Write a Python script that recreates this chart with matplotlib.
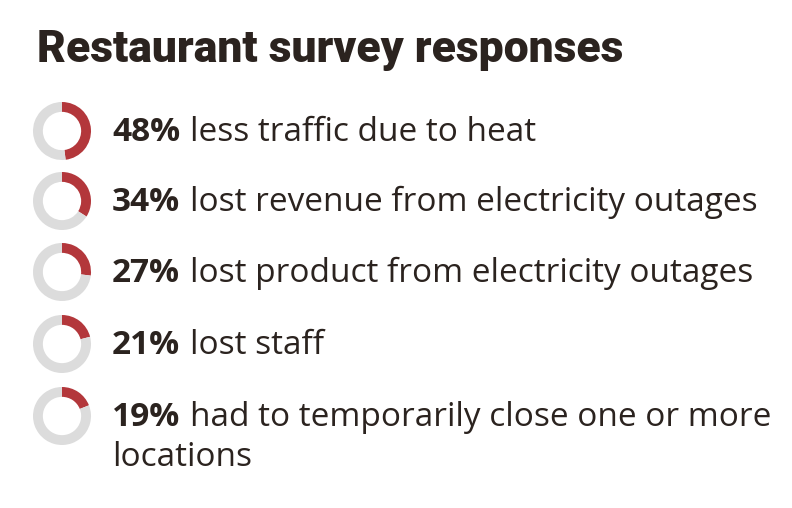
import matplotlib.pyplot as plt

# survey data
percents = [48, 34, 27, 21, 19]
labels = [
    "less traffic due to heat",
    "lost revenue from electricity outages",
    "lost product from electricity outages",
    "lost staff",
    "had to temporarily close one or more\nlocations",
]
title = "Restaurant survey responses"

red = "#b3373b"
grey = "#dcdcdc"
ink = "#2b231f"

W, H = 792, 508
fig = plt.figure(figsize=(W / 100, H / 100), dpi=100)
ax = fig.add_axes([0, 0, 1, 1])
ax.set_xlim(0, W)
ax.set_ylim(H, 0)
ax.axis("off")

ax.text(37, 62, title, fontsize=32, fontweight=900,
        family=["Roboto", "DejaVu Sans"],
        color=ink, va="baseline", ha="left")

renderer = fig.canvas.get_renderer()
row_y = [131, 201, 272, 344, 416]   # donut centres, pixels from top
r = 29

for pct, lab, cy in zip(percents, labels, row_y):
    # small axes for each donut
    pax = fig.add_axes([(62 - r) / W, 1 - (cy + r) / H, 2 * r / W, 2 * r / H])
    pax.pie([pct, 100 - pct], colors=[red, grey], startangle=90,
            counterclock=False, wedgeprops=dict(width=0.34, linewidth=0))
    pax.set_xlim(-1, 1)
    pax.set_ylim(-1, 1)
    pax.set_aspect("equal")

    base = cy + 10
    b = ax.text(112, base, f"{pct}%", fontsize=24, fontweight="bold",
                family="Open Sans", color=ink, va="baseline", ha="left")
    bb = b.get_window_extent(renderer)
    x_end = ax.transData.inverted().transform((bb.x1, bb.y0))[0]
    for i, line in enumerate(lab.split("\n")):
        x = x_end + 10 if i == 0 else 112
        ax.text(x, base + 40 * i, line, fontsize=24, family="Open Sans",
                color=ink, va="baseline", ha="left")

fig.savefig("out.png", dpi=100, facecolor="white")
